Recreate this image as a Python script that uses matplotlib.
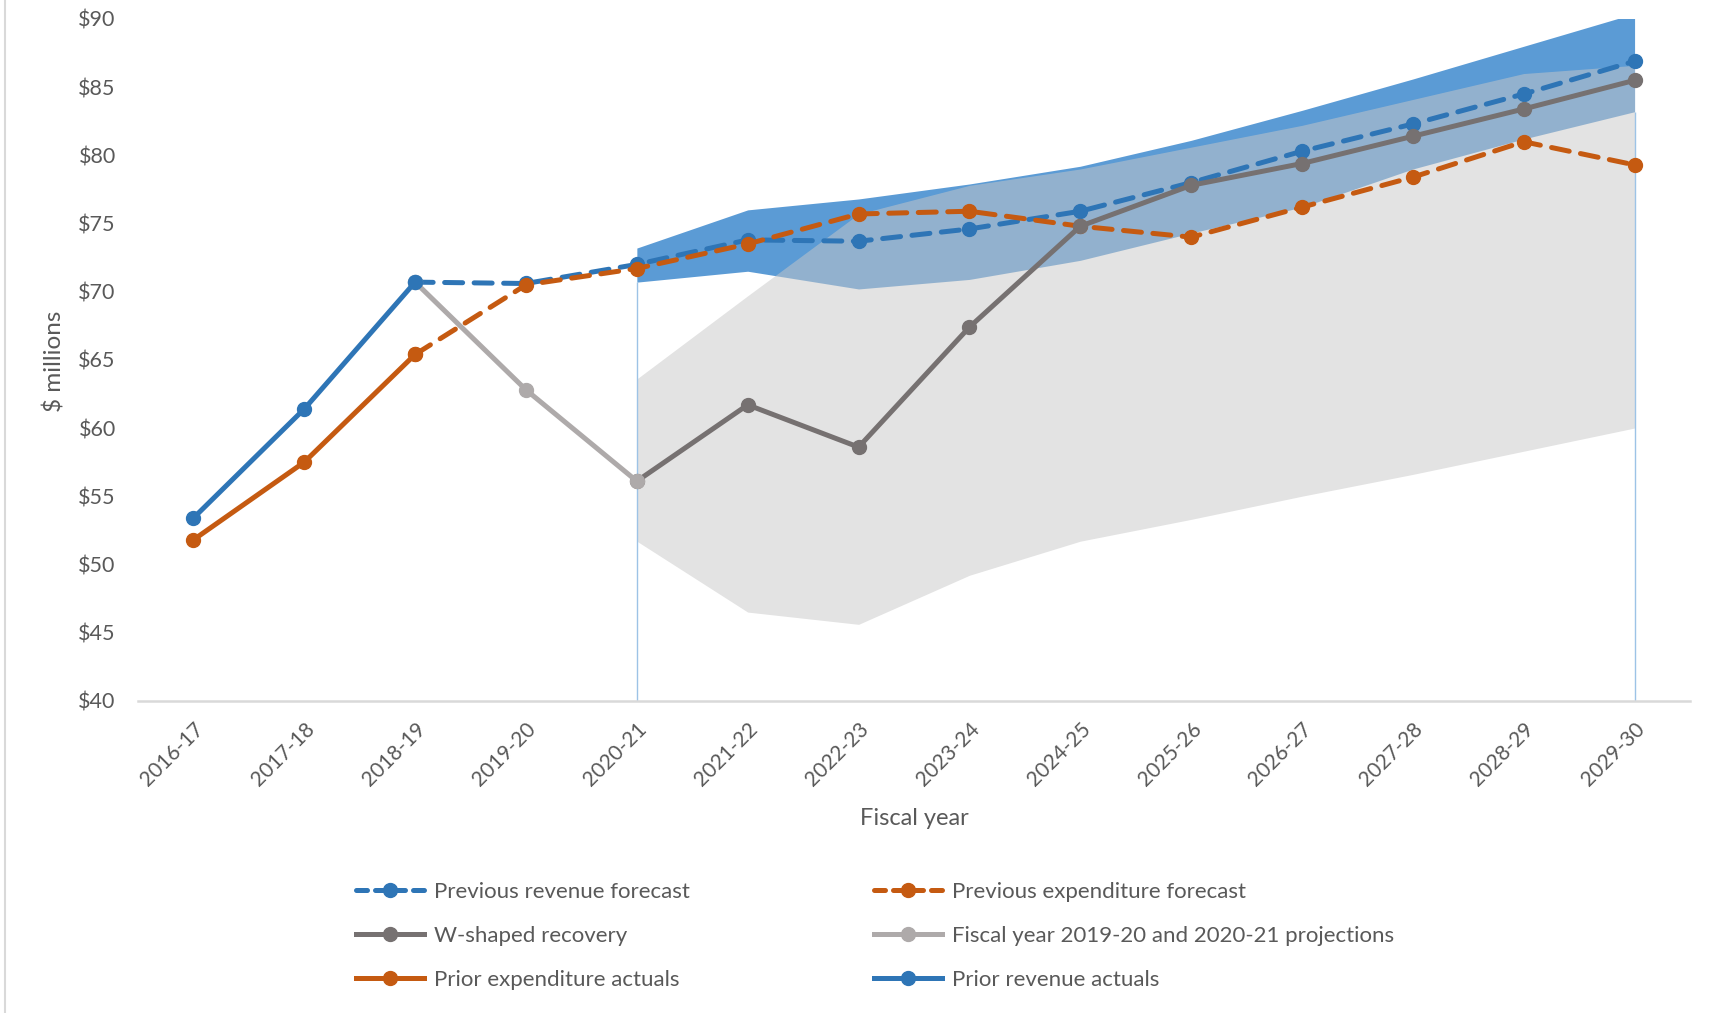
import matplotlib
matplotlib.use("Agg")
import matplotlib.pyplot as plt
from matplotlib.lines import Line2D
import numpy as np

plt.rcParams['font.family'] = ['Lato', 'DejaVu Sans']

years = ["2016-17", "2017-18", "2018-19", "2019-20", "2020-21", "2021-22", "2022-23",
         "2023-24", "2024-25", "2025-26", "2026-27", "2027-28", "2028-29", "2029-30"]

# Actuals (2016-17 to 2018-19)
revenue_actuals = [53.4, 61.4, 70.7]
expenditure_actuals = [51.8, 57.5, 65.4]

# Previous forecasts (2018-19 to 2029-30)
revenue_forecast = [70.7, 70.6, 72.0, 73.8, 73.7, 74.6, 75.9, 78.0, 80.3, 82.3, 84.5, 86.9]
expenditure_forecast = [65.4, 70.5, 71.7, 73.5, 75.7, 75.9, 74.8, 74.0, 76.2, 78.4, 81.0, 79.3]

# Fiscal year 2019-20 and 2020-21 projections (2018-19 to 2020-21)
projections = [70.7, 62.8, 56.1]

# W-shaped recovery (2020-21 to 2029-30)
w_recovery = [56.1, 61.7, 58.6, 67.4, 74.8, 77.8, 79.4, 81.4, 83.4, 85.5]

# Ranges (2020-21 to 2029-30)
revenue_range_low = [70.7, 71.5, 70.2, 70.9, 72.3, 74.3, 76.2, 79.0, 81.2, 83.2]
revenue_range_high = [73.2, 76.0, 76.8, 77.9, 79.2, 81.1, 83.3, 85.6, 88.0, 90.4]
scenario_range_low = [51.7, 46.5, 45.6, 49.2, 51.7, 53.3, 55.0, 56.6, 58.3, 60.0]
scenario_range_high = [63.6, 69.7, 75.7, 77.8, 79.0, 80.6, 82.2, 84.1, 86.0, 86.6]

C_BLUE = "#2E75B6"
C_ORANGE = "#C55A11"
C_DGRAY = "#767171"
C_LGRAY = "#AEAAAA"
C_BAND_BLUE = "#5B9BD5"
C_TEXT = "#595959"

x = np.arange(len(years))
x_act = x[0:3]
x_fc = x[2:]
x_proj = x[2:5]
x_rng = x[4:]

fig = plt.figure(figsize=(17.18, 10.13), dpi=100)
ax = fig.add_axes([138 / 1718, 1 - 700.7 / 1013, (1690 - 138) / 1718, (700.7 - 19) / 1013])

# shaded ranges
ax.fill_between(x_rng, revenue_range_low, revenue_range_high, color=C_BAND_BLUE, lw=0, zorder=1)
ax.fill_between(x_rng, scenario_range_low, scenario_range_high, color="#C8C8C8", alpha=0.51,
                lw=0, zorder=2)
ax.vlines([x_rng[0], x_rng[-1]], 40, [revenue_range_low[0], revenue_range_low[-1]],
          color="#9DC3E6", lw=1.0, zorder=2.5)

lw = 3.6
ms = 10
dash = (3.6, 2.3)

ax.plot(x_fc, revenue_forecast, color=C_BLUE, lw=lw, dashes=dash, dash_capstyle='round',
        marker='o', ms=ms, zorder=3)
ax.plot(x_fc, expenditure_forecast, color=C_ORANGE, lw=lw, dashes=dash, dash_capstyle='round',
        marker='o', ms=ms, zorder=4)
ax.plot(x_rng, w_recovery, color=C_DGRAY, lw=lw, marker='o', ms=ms, zorder=5)
ax.plot(x_proj, projections, color=C_LGRAY, lw=lw, marker='o', ms=ms, zorder=6)
ax.plot(x_act, expenditure_actuals, color=C_ORANGE, lw=lw, marker='o', ms=ms, zorder=7)
ax.plot(x_act, revenue_actuals, color=C_BLUE, lw=lw, marker='o', ms=ms, zorder=8)

ax.set_xlim(-0.5, len(years) - 0.5)
ax.set_ylim(40, 90)
ax.set_yticks(np.arange(40, 91, 5))
ax.set_yticklabels([f"${v}" for v in range(40, 91, 5)])
ax.set_xticks(x)
ax.set_xticklabels(years, rotation=45, ha='right', va='top', rotation_mode='anchor')

for s in ['top', 'right', 'left']:
    ax.spines[s].set_visible(False)
ax.spines['bottom'].set_color("#D9D9D9")
ax.spines['bottom'].set_linewidth(1.8)
ax.tick_params(axis='y', length=0, pad=16, labelsize=15.5, labelcolor=C_TEXT)
ax.tick_params(axis='x', length=0, pad=13, labelsize=15, labelcolor=C_TEXT)

fig.text(55 / 1718, 1 - 361 / 1013, "$ millions", rotation=90, ha='center', va='center',
         fontsize=17.5, color=C_TEXT)
fig.text(914 / 1718, 1 - 818 / 1013, "Fiscal year", ha='center', va='center',
         fontsize=17, color=C_TEXT)

# chart border on the left edge
fig.add_artist(Line2D([5 / 1718, 5 / 1718], [0, 1], transform=fig.transFigure,
                      color="#D9D9D9", lw=1.5))

def handle(color, dashed):
    if dashed:
        return Line2D([], [], color=color, lw=lw, dashes=(2.2, 1.6), dash_capstyle='round',
                      marker='o', ms=ms)
    return Line2D([], [], color=color, lw=lw, marker='o', ms=ms)

entries = [
    (handle(C_BLUE, True), "Previous revenue forecast"),
    (handle(C_DGRAY, False), "W-shaped recovery"),
    (handle(C_ORANGE, False), "Prior expenditure actuals"),
    (handle(C_ORANGE, True), "Previous expenditure forecast"),
    (handle(C_LGRAY, False), "Fiscal year 2019-20 and 2020-21 projections"),
    (handle(C_BLUE, False), "Prior revenue actuals"),
]
leg = fig.legend([e[0] for e in entries], [e[1] for e in entries], ncol=2,
                 loc='upper left', bbox_to_anchor=(356 / 1718, 1 - 881.5 / 1013),
                 frameon=False, borderaxespad=0, borderpad=0, fontsize=16,
                 handlelength=3.06, handletextpad=0.45, columnspacing=8.3,
                 labelspacing=1.085, labelcolor=C_TEXT)

fig.savefig("out.png", dpi=100, facecolor="white")
